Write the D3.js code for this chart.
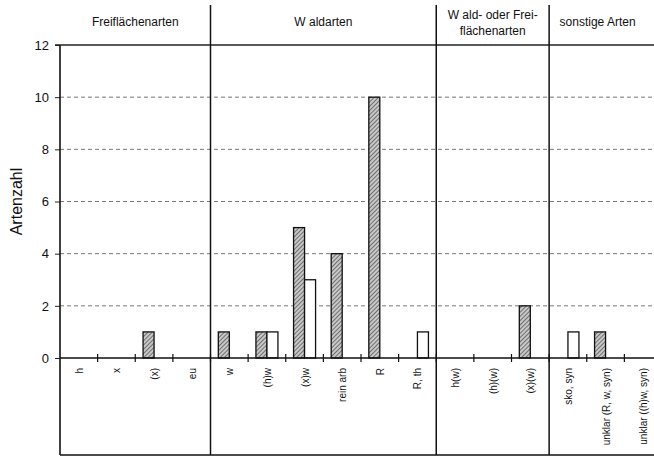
<!DOCTYPE html>
<html>
<head>
<meta charset="utf-8">
<script src="https://cdn.jsdelivr.net/npm/d3@7"></script>
<style>
  body { margin: 0; background: #fff; }
  text { font-family: Arial, "Liberation Sans", sans-serif; }
</style>
</head>
<body>
<div id="chart"></div>
<script>
const categories = ["h", "x", "(x)", "eu", "w", "(h)w", "(x)w", "rein arb", "R", "R, th",
    "h(w)", "(h)(w)", "(x)(w)", "sko, syn", "unklar (R, w, syn)", "unklar ((h)w, syn)"];
const hatchedValues = [0, 0, 1, 0, 1, 1, 5, 4, 10, 0, 0, 0, 2, 0, 1, 0];
const whiteValues = [0, 0, 0, 0, 0, 1, 3, 0, 0, 1, 0, 0, 0, 1, 0, 0];
const groupNames = [["Freiflächenarten"], ["W aldarten"], ["W ald- oder Frei-", "flächenarten"], ["sonstige Arten"]];
const groupSizes = [4, 6, 3, 3];
const yTicks = [0, 2, 4, 6, 8, 10, 12];

const width = 654, height = 463;
const plotLeft = 60, plotRight = 662, plotTop = 45, plotBottom = 358, tableBottom = 455;

const svg = d3.select("#chart").append("svg")
    .attr("width", width)
    .attr("height", height);

const defs = svg.append("defs");
const pat = defs.append("pattern")
    .attr("id", "hatch")
    .attr("patternUnits", "userSpaceOnUse")
    .attr("width", 3).attr("height", 3)
    .attr("patternTransform", "rotate(45)");
pat.append("rect").attr("width", 3).attr("height", 3).attr("fill", "#c8c8c8");
pat.append("line").attr("x1", 0).attr("y1", 0).attr("x2", 0).attr("y2", 3)
    .attr("stroke", "#333").attr("stroke-width", 1.2);

const x = d3.scaleBand().domain(categories).range([plotLeft, plotRight]);
const y = d3.scaleLinear().domain([0, 12]).range([plotBottom, plotTop]);
const barW = 11;

// gridlines
svg.append("g").selectAll("line")
    .data(yTicks.filter(d => d > 0 && d < 12))
    .enter().append("line")
    .attr("x1", plotLeft).attr("x2", plotRight)
    .attr("y1", d => y(d)).attr("y2", d => y(d))
    .attr("stroke", "#555").attr("stroke-width", 0.8)
    .attr("stroke-dasharray", "4,3");

// top border line
svg.append("line")
    .attr("x1", plotLeft - 5).attr("x2", plotRight)
    .attr("y1", y(12)).attr("y2", y(12))
    .attr("stroke", "#222").attr("stroke-width", 1.3);

// y axis
const yAxis = svg.append("g")
    .attr("transform", `translate(${plotLeft},0)`)
    .call(d3.axisLeft(y).tickValues(yTicks).tickSize(5).tickPadding(6));
yAxis.select(".domain").remove();
yAxis.selectAll("line").attr("stroke", "#222");
yAxis.selectAll("text").style("font-size", "13px").attr("fill", "#111");

svg.append("line")
    .attr("x1", plotLeft).attr("x2", plotLeft)
    .attr("y1", plotTop).attr("y2", tableBottom)
    .attr("stroke", "#111").attr("stroke-width", 1.6);

svg.append("text")
    .attr("transform", `translate(22,${(plotTop + plotBottom) / 2}) rotate(-90)`)
    .style("text-anchor", "middle")
    .style("font-size", "16px")
    .attr("fill", "#111")
    .text("Artenzahl");

// bars
svg.append("g").selectAll("rect")
    .data(categories.filter((c, i) => hatchedValues[i] > 0))
    .enter().append("rect")
    .attr("x", d => x(d) + x.bandwidth() / 2 - barW)
    .attr("y", d => y(hatchedValues[categories.indexOf(d)]))
    .attr("width", barW)
    .attr("height", d => plotBottom - y(hatchedValues[categories.indexOf(d)]))
    .attr("fill", "url(#hatch)")
    .attr("stroke", "#111").attr("stroke-width", 1.3);

svg.append("g").selectAll("rect")
    .data(categories.filter((c, i) => whiteValues[i] > 0))
    .enter().append("rect")
    .attr("x", d => x(d) + x.bandwidth() / 2)
    .attr("y", d => y(whiteValues[categories.indexOf(d)]))
    .attr("width", barW)
    .attr("height", d => plotBottom - y(whiteValues[categories.indexOf(d)]))
    .attr("fill", "#fff")
    .attr("stroke", "#111").attr("stroke-width", 1.3);

// x axis line
svg.append("line")
    .attr("x1", plotLeft).attr("x2", plotRight)
    .attr("y1", plotBottom).attr("y2", plotBottom)
    .attr("stroke", "#111").attr("stroke-width", 1.5);

// ticks at category boundaries
svg.append("g").selectAll("line")
    .data(categories.slice(1))
    .enter().append("line")
    .attr("x1", d => x(d)).attr("x2", d => x(d))
    .attr("y1", plotBottom - 4).attr("y2", plotBottom + 4)
    .attr("stroke", "#111").attr("stroke-width", 1.2);

// x labels
svg.append("g").selectAll("text")
    .data(categories)
    .enter().append("text")
    .attr("transform", d => `translate(${x(d) + x.bandwidth() / 2 + 4},${plotBottom + 10}) rotate(-90)`)
    .style("text-anchor", "end")
    .style("font-size", "10px")
    .attr("fill", "#111")
    .text(d => d);

// group separators and headers
let start = 0;
groupSizes.forEach((n, gi) => {
    const x0 = x(categories[start]);
    const x1 = start + n < categories.length ? x(categories[start + n]) : plotRight;
    if (start + n < categories.length) {
        svg.append("line")
            .attr("x1", x1).attr("x2", x1)
            .attr("y1", 5).attr("y2", tableBottom)
            .attr("stroke", "#111").attr("stroke-width", 1.5);
    }
    const lines = groupNames[gi];
    const cy = lines.length === 1 ? 26 : 19;
    lines.forEach((t, li) => {
        svg.append("text")
            .attr("x", (x0 + Math.min(x1, width)) / 2 - (gi === 3 ? 4 : 0))
            .attr("y", cy + li * 16)
            .style("text-anchor", "middle")
            .style("font-size", "12px")
            .attr("fill", "#111")
            .text(t);
    });
    start += n;
});

// bottom line of table
svg.append("line")
    .attr("x1", plotLeft).attr("x2", plotRight)
    .attr("y1", tableBottom).attr("y2", tableBottom)
    .attr("stroke", "#111").attr("stroke-width", 1.5);
</script>
</body>
</html>
